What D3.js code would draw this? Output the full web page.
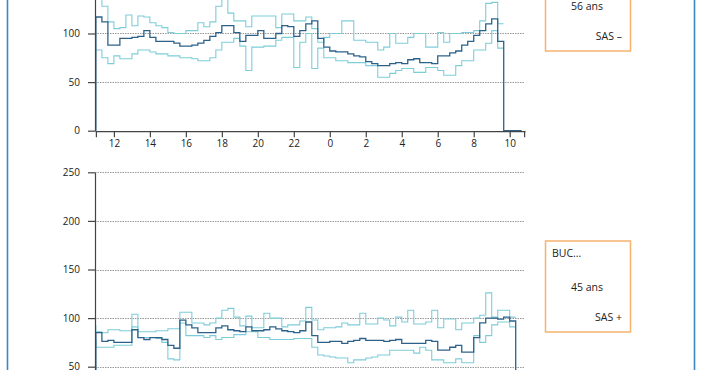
<!DOCTYPE html>
<html>
<head>
<meta charset="utf-8">
<script src="https://cdn.jsdelivr.net/npm/d3@7"></script>
<style>
  body { margin: 0; background: #fff; }
  svg { display: block; }
</style>
</head>
<body>
<div id="chart"></div>
<script>
// two recordings, one sample every 20 minutes starting at 11:00
var w = 702, h = 370;
var hourStart = 11, sampleStep = 1 / 3;

var yTicks = [0, 50, 100, 150, 200, 250];
var xTicks = [11, 12, 14, 16, 18, 20, 22, 24, 26, 28, 30, 32, 34, 34.8];

// top recording (SAS -)
var topMain = [0, 117, 112, 88, 88, 95, 95, 96, 97, 103, 96, 92, 92, 92, 90, 87, 87, 88, 90, 93, 97,
    101, 108, 108, 101, 92, 98, 98, 103, 95, 95, 100, 108, 107, 97, 103, 110, 113, 95, 86, 82,
    81, 81, 79, 77, 76, 71, 69, 67, 67, 69, 70, 69, 73, 74, 70, 70, 69, 77, 77, 80,
    82, 88, 92, 98, 103, 110, 115, 92, 0, 0, 0];
var topUpper = [145, 145, 128, 112, 105, 106, 119, 108, 118, 117, 111, 108, 106, 101, 100, 100, 103, 103, 111, 107, 112,
    128, 138, 121, 113, 113, 107, 118, 118, 118, 118, 106, 120, 120, 113, 113, 117, 105, 91, 96, 100,
    100, 113, 113, 93, 93, 91, 91, 83, 86, 100, 90, 90, 96, 100, 100, 86, 86, 101, 91, 100,
    100, 101, 101, 103, 113, 131, 132, 110];
var topLower = [83, 83, 75, 69, 77, 74, 74, 79, 83, 83, 81, 79, 79, 77, 77, 75, 75, 74, 72, 72, 75,
    83, 91, 91, 95, 87, 62, 86, 86, 87, 87, 93, 96, 96, 65, 91, 100, 64, 85, 75, 75,
    72, 72, 70, 70, 70, 67, 67, 55, 55, 59, 62, 64, 64, 60, 60, 65, 65, 62, 57, 57,
    67, 72, 72, 83, 83, 90, 103, 85];

// bottom recording (SAS +)
var botMain = [0, 85, 76, 77, 75, 75, 75, 88, 80, 78, 80, 80, 78, 72, 69, 98, 93, 90, 85, 85,
    85, 90, 92, 88, 87, 86, 91, 87, 87, 88, 91, 89, 87, 86, 85, 87, 96, 82, 75, 75,
    76, 76, 74, 76, 77, 79, 77, 77, 77, 76, 77, 78, 74, 74, 74, 74, 77, 76, 67, 67,
    70, 72, 65, 65, 80, 95, 100, 100, 99, 101, 97, 0];
var botUpper = [93, 86, 85, 88, 88, 87, 87, 104, 86, 86, 86, 87, 87, 89, 89, 106, 106, 95, 95, 93,
    95, 100, 108, 110, 101, 92, 102, 90, 90, 105, 100, 100, 91, 93, 93, 97, 111, 98, 88, 90,
    90, 91, 95, 93, 93, 105, 94, 94, 100, 98, 92, 101, 96, 108, 94, 94, 96, 108, 90, 99,
    99, 88, 95, 95, 100, 103, 126, 101, 108, 108, 101];
var botLower = [78, 70, 70, 70, 72, 72, 72, 91, 80, 80, 80, 79, 75, 58, 57, 95, 82, 82, 82, 80,
    82, 78, 80, 80, 83, 83, 86, 86, 80, 80, 78, 78, 78, 78, 79, 79, 79, 70, 62, 61,
    60, 59, 59, 54, 57, 57, 59, 60, 62, 62, 67, 67, 67, 67, 64, 70, 67, 57, 57, 54,
    54, 58, 54, 54, 82, 75, 82, 93, 96, 96, 91];

var darkBlue = "#2c628a", lightBlue = "#7dcdd9", font = "'Open Sans', sans-serif";

var svg = d3.select("#chart")
    .append("svg")
    .attr("width", w)
    .attr("height", h);

// page frame
svg.append("line").attr("x1", 7.5).attr("x2", 7.5).attr("y1", 0).attr("y2", h)
    .attr("stroke", "#3d87c7").attr("stroke-width", 1.6);
svg.append("line").attr("x1", 694.5).attr("x2", 694.5).attr("y1", 0).attr("y2", h)
    .attr("stroke", "#3d87c7").attr("stroke-width", 1.6);

var xScale = d3.scaleLinear()
    .domain([10.95, 34.85])
    .range([95, 525]);

function drawChart(zeroY, series, showXAxis) {
    var yScale = d3.scaleLinear()
        .domain([0, 250])
        .range([zeroY, zeroY - 243]);

    // only the ticks that fall on the page
    var shownTicks = yTicks.filter(function (d) { return yScale(d) > 5 && yScale(d) < h; });

    var g = svg.append("g");

    // dotted grid
    g.selectAll(".grid")
        .data(yTicks.slice(1))
        .enter()
        .append("line")
        .attr("class", "grid")
        .attr("x1", 95).attr("x2", 525)
        .attr("y1", function (d) { return Math.round(yScale(d)) + 0.5; })
        .attr("y2", function (d) { return Math.round(yScale(d)) + 0.5; })
        .attr("stroke", "#9a9a9a")
        .attr("stroke-width", 1)
        .attr("stroke-dasharray", "1.5,1");

    var line = d3.line()
        .x(function (d, i) { return xScale(hourStart + i * sampleStep); })
        .y(function (d) { return yScale(d); })
        .curve(d3.curveStepBefore);

    [series.upper, series.lower].forEach(function (s) {
        g.append("path")
            .attr("d", line(s))
            .attr("fill", "none")
            .attr("stroke", lightBlue)
            .attr("stroke-width", 1.1);
    });
    g.append("path")
        .attr("d", line(series.main))
        .attr("fill", "none")
        .attr("stroke", darkBlue)
        .attr("stroke-width", 1.3);

    var yAxis = d3.axisLeft(yScale)
        .tickValues(shownTicks)
        .tickSize(7)
        .tickPadding(8)
        .tickSizeOuter(0);
    var ya = g.append("g")
        .attr("transform", "translate(95,0)")
        .call(yAxis);
    ya.selectAll("path, line").attr("stroke", "#444").attr("stroke-width", 1.2);
    ya.selectAll("text").attr("font-family", font).attr("font-size", "10px").attr("fill", "#222");

    if (showXAxis) {
        var xAxis = d3.axisBottom(xScale)
            .tickValues(xTicks)
            .tickSize(6)
            .tickPadding(3)
            .tickSizeOuter(0)
            .tickFormat(function (d) { return d % 2 === 0 ? d % 24 : ""; });
        var xa = g.append("g")
            .attr("transform", "translate(0," + (zeroY + 0.5) + ")")
            .call(xAxis);
        xa.selectAll("path, line").attr("stroke", "#444").attr("stroke-width", 1.2);
        xa.selectAll("text").attr("font-family", font).attr("font-size", "10px").attr("fill", "#222");
    }
}

function drawLabel(top, lines) {
    var g = svg.append("g");
    g.append("rect")
        .attr("x", 545.5).attr("y", top)
        .attr("width", 85).attr("height", 91)
        .attr("fill", "none")
        .attr("stroke", "#f5b36e")
        .attr("stroke-width", 1.5);
    var pos = [[552, 16, "start"], [587, 50, "middle"], [622, 80, "end"]];
    lines.forEach(function (t, i) {
        if (!t) return;
        g.append("text")
            .attr("x", pos[i][0])
            .attr("y", top + pos[i][1])
            .attr("text-anchor", pos[i][2])
            .attr("font-family", font)
            .attr("font-size", "10.5px")
            .attr("fill", "#222")
            .text(t);
    });
}

drawChart(130.7, { main: topMain, upper: topUpper, lower: topLower }, true);
drawChart(415.3, { main: botMain, upper: botUpper, lower: botLower }, false);

drawLabel(-40, ["", "56 ans", "SAS \u2013"]);
drawLabel(241, ["BUC...", "45 ans", "SAS +"]);
</script>
</body>
</html>
